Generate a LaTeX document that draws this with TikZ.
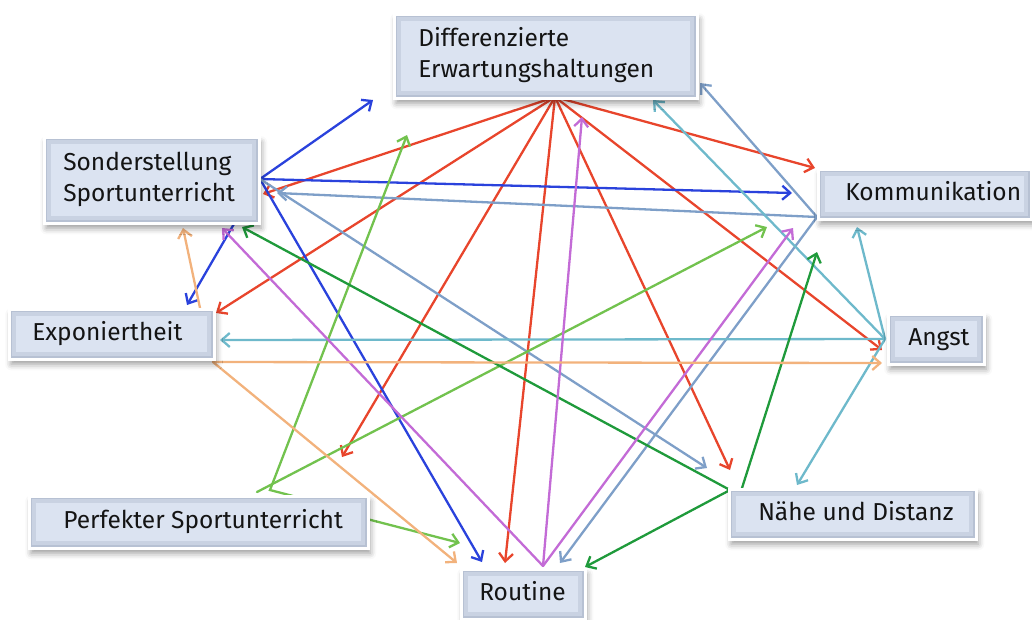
\documentclass[tikz,border=0pt]{standalone}
\usepackage{fontspec}
\setmainfont{Fira Sans}
\usetikzlibrary{arrows.meta,shadows.blur,backgrounds}

\definecolor{boxfill}{HTML}{DBE3F1}
\definecolor{boxedge}{HTML}{A9B4C8}
\definecolor{boxtext}{HTML}{141414}
\definecolor{cRed}{HTML}{E8452C}
\definecolor{cBlue}{HTML}{2A42DC}
\definecolor{cSteel}{HTML}{7E9FC8}
\definecolor{cCyan}{HTML}{6EB9CB}
\definecolor{cGreen}{HTML}{72C24E}
\definecolor{cDkGreen}{HTML}{1F9A3B}
\definecolor{cMagenta}{HTML}{C36BD6}
\definecolor{cOrange}{HTML}{F2B27C}

% left-aligned label inside a fixed-width box
\newcommand{\boxlabel}[3]{\makebox[#1][l]{\hspace*{#2}\begin{tabular}{@{}l@{}}#3\end{tabular}}}

\tikzset{
  box/.style={rectangle, inner sep=0pt, fill=boxfill, draw=white, line width=2.5pt,
    anchor=north west, text=boxtext,
    font=\fontsize{24.5}{31}\selectfont,
    blur shadow={shadow xshift=2pt, shadow yshift=-5pt, shadow blur radius=6pt, shadow opacity=40},
    path picture={
      \draw[boxedge, line width=14pt, opacity=.35]
        (path picture bounding box.south west) rectangle (path picture bounding box.north east);
      \draw[boxedge, line width=6pt, opacity=.55]
        (path picture bounding box.south west) rectangle (path picture bounding box.north east);
    }},
  link/.style={line width=2.3pt, line cap=round,
    -{Straight Barb[length=8pt,width=14pt,line width=2.3pt]}},
}

\begin{document}
\begin{tikzpicture}[x=1pt,y=-1pt]
\useasboundingbox (0,0) rectangle (1032,619);

% boxes
\node[box, minimum width=303pt, minimum height=84pt] (diff) at (393,13)
  {\boxlabel{303pt}{24pt}{Differenzierte\\Erwartungshaltungen}};
\node[box, minimum width=215pt, minimum height=86pt] (sond) at (43,136)
  {\boxlabel{215pt}{19pt}{Sonderstellung\\Sportunterricht}};
\node[box, minimum width=205pt, minimum height=50pt] (expo) at (8,308)
  {\boxlabel{205pt}{23pt}{Exponiertheit}};
\node[box, minimum width=213pt, minimum height=50pt] (komm) at (817,168)
  {\boxlabel{213pt}{27pt}{Kommunikation}};
\node[box, minimum width=96pt, minimum height=50pt] (angst) at (887,313)
  {\boxlabel{96pt}{20pt}{Angst}};
\node[box, minimum width=339pt, minimum height=52pt] (perf) at (28,495)
  {\boxlabel{339pt}{34pt}{Perfekter Sportunterricht}};
\node[box, minimum width=124pt, minimum height=50pt] (rout) at (460,568)
  {\boxlabel{124pt}{18pt}{Routine}};
\node[box, minimum width=247pt, minimum height=50pt] (nahe) at (728,488)
  {\boxlabel{247pt}{29pt}{Nähe und Distanz}};

% connector hubs at the boxes
\coordinate (dHub) at (555,97);
\coordinate (sHub) at (260,179);
\coordinate (kHub) at (817,217);
\coordinate (aHub) at (885,339);
\coordinate (eHub) at (213,362);
\coordinate (eTop) at (200,308);
\coordinate (rHub) at (543,566);
\coordinate (nHub) at (730,490);
\coordinate (nTop) at (742,488);
\coordinate (pTop) at (293,496);
\coordinate (pBend) at (270,490);
\coordinate (pTopL) at (257,492);
\coordinate (pRight) at (367,519);

% arrow ends
\coordinate (toKommR) at (815,168);
\coordinate (toExpoR) at (216,313);
\coordinate (toPerfR) at (342,457);
\coordinate (toRoutR) at (505,563);
\coordinate (toNaheR) at (730,470);
\coordinate (toAngstR) at (882,350);
\coordinate (toSondR) at (263,194);
\coordinate (toDiffB) at (373,100);
\coordinate (toKommB) at (792,193);
\coordinate (toExpoB) at (187,305);
\coordinate (toRoutB) at (482,562);
\coordinate (toSondS) at (277,193);
\coordinate (toDiffS) at (700,83);
\coordinate (toRoutS) at (560,563);
\coordinate (toNaheS) at (707,468);
\coordinate (toDiffC) at (653,100);
\coordinate (toExpoC) at (220,340);
\coordinate (toKommC) at (857,227);
\coordinate (toNaheC) at (797,485);
\coordinate (toDiffG) at (407,135);
\coordinate (toKommG) at (767,227);
\coordinate (toRoutG) at (460,543);
\coordinate (toSondD) at (242,227);
\coordinate (toKommD) at (817,252);
\coordinate (toRoutD) at (585,567);
\coordinate (toDiffM) at (582,117);
\coordinate (toKommM) at (793,228);
\coordinate (toSondM) at (222,228);
\coordinate (toAngstO) at (882,363);
\coordinate (toRoutO) at (457,563);
\coordinate (toSondO) at (183,228);

\begin{scope}[on background layer]
  % Differenzierte Erwartungshaltungen
  \draw[link, cRed] (dHub) -- (toKommR);
  \draw[link, cRed] (dHub) -- (toExpoR);
  \draw[link, cRed] (dHub) -- (toPerfR);
  \draw[link, cRed] (dHub) -- (toRoutR);
  \draw[link, cRed] (dHub) -- (toNaheR);
  \draw[link, cRed] (dHub) -- (toAngstR);
  \draw[link, cRed] (dHub) -- (toSondR);
  % Sonderstellung Sportunterricht
  \draw[link, cBlue] (sHub) -- (toDiffB);
  \draw[link, cBlue] (sHub) -- (toKommB);
  \draw[link, cBlue] (sHub) -- (toExpoB);
  \draw[link, cBlue] (sHub) -- (toRoutB);
  \draw[link, cSteel] (sHub) -- (toNaheS);
  % Kommunikation
  \draw[link, cSteel] (kHub) -- (toSondS);
  \draw[link, cSteel] (kHub) -- (toDiffS);
  \draw[link, cSteel] (kHub) -- (toRoutS);
  % Angst
  \draw[link, cCyan] (aHub) -- (toDiffC);
  \draw[link, cCyan] (aHub) -- (toExpoC);
  \draw[link, cCyan] (aHub) -- (toKommC);
  \draw[link, cCyan] (aHub) -- (toNaheC);
  % Perfekter Sportunterricht
  \draw[link, cGreen] (pTop) -- (pBend) -- (toDiffG);
  \draw[link, cGreen] (pTopL) -- (toKommG);
  \draw[link, cGreen] (pRight) -- (toRoutG);
  % Naehe und Distanz
  \draw[link, cDkGreen] (nHub) -- (toSondD);
  \draw[link, cDkGreen] (nTop) -- (toKommD);
  \draw[link, cDkGreen] (nHub) -- (toRoutD);
  % Routine
  \draw[link, cMagenta] (rHub) -- (toDiffM);
  \draw[link, cMagenta] (rHub) -- (toKommM);
  \draw[link, cMagenta] (rHub) -- (toSondM);
  % Exponiertheit
  \draw[link, cOrange] (eHub) -- (toAngstO);
  \draw[link, cOrange] (eHub) -- (toRoutO);
  \draw[link, cOrange] (eTop) -- (toSondO);
\end{scope}
\end{tikzpicture}
\end{document}
